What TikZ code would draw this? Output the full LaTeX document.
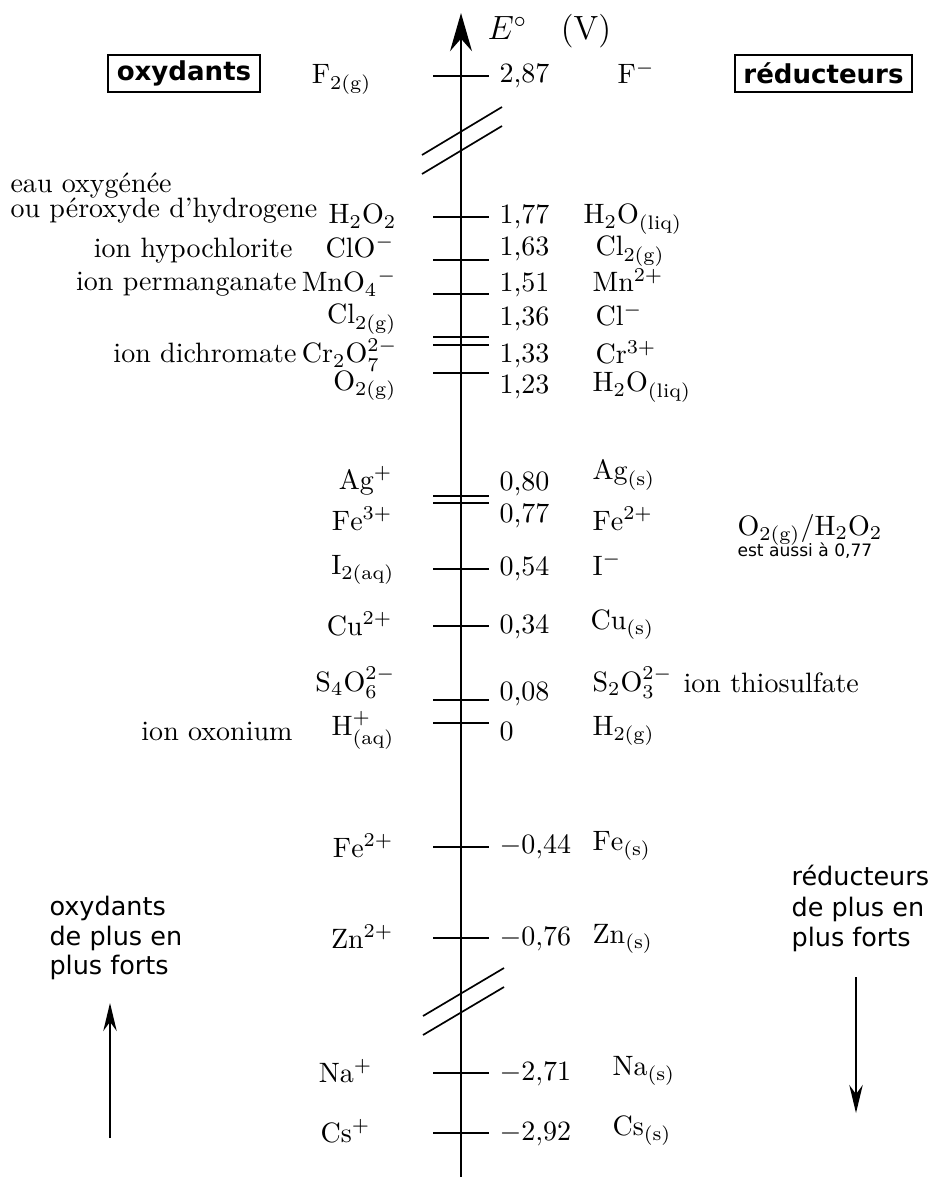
\documentclass[tikz,border=0pt]{standalone}
\usepackage{fontspec}
\newfontfamily\dv{DejaVu Sans}
\usetikzlibrary{arrows.meta}
\begin{document}
\begin{tikzpicture}[x=0.357pt,y=-0.357pt,
  lab/.style={font=\fontsize{10}{12}\selectfont, inner sep=0pt},
  lw/.style={lab, anchor=base west},
  le/.style={lab, anchor=base east},
  sans/.style={font=\dv\fontsize{9.1}{11}\selectfont, inner sep=0pt, anchor=base west},
  boxlab/.style={draw, line width=0.7pt, font=\dv\bfseries\fontsize{9.3}{11}\selectfont, inner sep=0pt, minimum height=13.2pt},
  tickline/.style={line width=0.6pt},
  brk/.style={line width=0.6pt},
  axis/.style={line width=0.95pt, -{Stealth[length=13.6pt,width=7.8pt]}},
  trend/.style={line width=0.6pt, -{Stealth[length=10pt,width=4.8pt]}}
]
\useasboundingbox (0,0) rectangle (928,1177);

% axis
\coordinate (axbot) at (461,1177);
\coordinate (axtop) at (461,13);
\draw[axis] (axbot) -- (axtop);
\node[lw, font=\fontsize{12}{14}\selectfont] (eunit) at (487,40) {$E^\circ$\quad(V)};

% boxes
\node[boxlab, minimum width=54.3pt] (oxbox) at (184,73.5) {oxydants};
\node[boxlab, minimum width=63.2pt] (redbox) at (823.5,73.5) {réducteurs};

% ticks
\foreach \y in {76,217,260,294,337,345,373,496,503,569,626,700,723,847,938,1073,1133}
  \draw[tickline] (433,\y) -- (489,\y);

% axis breaks
\draw[brk] (422,155) -- (502,107);
\draw[brk] (422,174) -- (502,126);
\draw[brk] (423,1016) -- (504,968);
\draw[brk] (423,1035) -- (504,987);

% values
\node[lw] (v1) at (499,83) {2,87};
\node[lw] (v2) at (499,224) {1,77};
\node[lw] (v3) at (499,256) {1,63};
\node[lw] (v4) at (499,292) {1,51};
\node[lw] (v5) at (499,326) {1,36};
\node[lw] (v6) at (499,363) {1,33};
\node[lw] (v7) at (499,393) {1,23};
\node[lw] (v8) at (499,490) {0,80};
\node[lw] (v9) at (499,522) {0,77};
\node[lw] (v10) at (499,575) {0,54};
\node[lw] (v11) at (499,633) {0,34};
\node[lw] (v12) at (499,700) {0,08};
\node[lw] (v13) at (499,740) {0};
\node[lw] (v14) at (499,853) {$-0{,}44$};
\node[lw] (v15) at (499,945) {$-0{,}76$};
\node[lw] (v16) at (499,1080) {$-2{,}71$};
\node[lw] (v17) at (499,1140) {$-2{,}92$};

% oxidants (left)
\node[le] (o1) at (372,84) {$\mathrm{F_{2(g)}}$};
\node[le] (o2) at (397,224) {$\mathrm{H_2O_2}$};
\node[le] (o3) at (395,258) {$\mathrm{ClO^-}$};
\node[le] (o4) at (397,292) {$\mathrm{MnO_4{}^-}$};
\node[le] (o5) at (397,324) {$\mathrm{Cl_{2(g)}}$};
\node[le] (o6) at (398,363) {$\mathrm{Cr_2O_7^{2-}}$};
\node[le] (o7) at (397,390) {$\mathrm{O_{2(g)}}$};
\node[le] (o8) at (393,489) {$\mathrm{Ag^+}$};
\node[le] (o9) at (393,530) {$\mathrm{Fe^{3+}}$};
\node[le] (o10) at (395,574) {$\mathrm{I_{2(aq)}}$};
\node[le] (o11) at (393,635) {$\mathrm{Cu^{2+}}$};
\node[le] (o12) at (396,691) {$\mathrm{S_4O_6^{2-}}$};
\node[le] (o13) at (395,735) {$\mathrm{H^+_{(aq)}}$};
\node[le] (o14) at (394,857) {$\mathrm{Fe^{2+}}$};
\node[le] (o15) at (394,948) {$\mathrm{Zn^{2+}}$};
\node[le] (o16) at (373,1082) {$\mathrm{Na^+}$};
\node[le] (o17) at (371,1142) {$\mathrm{Cs^+}$};

% names (left)
\node[lw] (n1a) at (10,193) {eau oxygénée};
\node[lw] (n1b) at (10,218) {ou péroxyde d’hydrogene};
\node[le] (n2) at (293,258) {ion hypochlorite};
\node[le] (n3) at (297,291) {ion permanganate};
\node[le] (n4) at (297,363) {ion dichromate};
\node[le] (n5) at (293,740) {ion oxonium};

% reducers (right)
\node[lw] (r1) at (617,84) {$\mathrm{F^-}$};
\node[lw] (r2) at (583,224) {$\mathrm{H_2O_{(liq)}}$};
\node[lw] (r3) at (595,256) {$\mathrm{Cl_{2(g)}}$};
\node[lw] (r4) at (592,292) {$\mathrm{Mn^{2+}}$};
\node[lw] (r5) at (595,326) {$\mathrm{Cl^-}$};
\node[lw] (r6) at (595,364) {$\mathrm{Cr^{3+}}$};
\node[lw] (r7) at (592,392) {$\mathrm{H_2O_{(liq)}}$};
\node[lw] (r8) at (592,480) {$\mathrm{Ag_{(s)}}$};
\node[lw] (r9) at (592,530) {$\mathrm{Fe^{2+}}$};
\node[lw] (r10) at (592,575) {$\mathrm{I^-}$};
\node[lw] (r11) at (590,629) {$\mathrm{Cu_{(s)}}$};
\node[lw] (r12) at (592,691) {$\mathrm{S_2O_3^{2-}}$};
\node[lw] (r12n) at (683,692) {ion thiosulfate};
\node[lw] (r13) at (592,735) {$\mathrm{H_{2(g)}}$};
\node[lw] (r14) at (592,850) {$\mathrm{Fe_{(s)}}$};
\node[lw] (r15) at (592,943) {$\mathrm{Zn_{(s)}}$};
\node[lw] (r16) at (612,1075) {$\mathrm{Na_{(s)}}$};
\node[lw] (r17) at (612,1135) {$\mathrm{Cs_{(s)}}$};

% note
\node[lw] (note1) at (737,535) {$\mathrm{O_{2(g)}/H_2O_2}$};
\node[sans, font=\dv\fontsize{6.1}{7}\selectfont] (note2) at (737,556) {est aussi à 0,77};

% trend texts
\node[sans] (lt1) at (49,915) {oxydants};
\node[sans] (lt2) at (49,945) {de plus en};
\node[sans] (lt3) at (49,974) {plus forts};
\node[sans] (rt1) at (791,885) {réducteurs};
\node[sans] (rt2) at (791,916) {de plus en};
\node[sans] (rt3) at (791,946) {plus forts};

% trend arrows
\coordinate (la1) at (110,1138);
\coordinate (la2) at (110,1003);
\draw[trend] (la1) -- (la2);
\coordinate (ra1) at (856,977);
\coordinate (ra2) at (856,1113);
\draw[trend] (ra1) -- (ra2);
\end{tikzpicture}
\end{document}
